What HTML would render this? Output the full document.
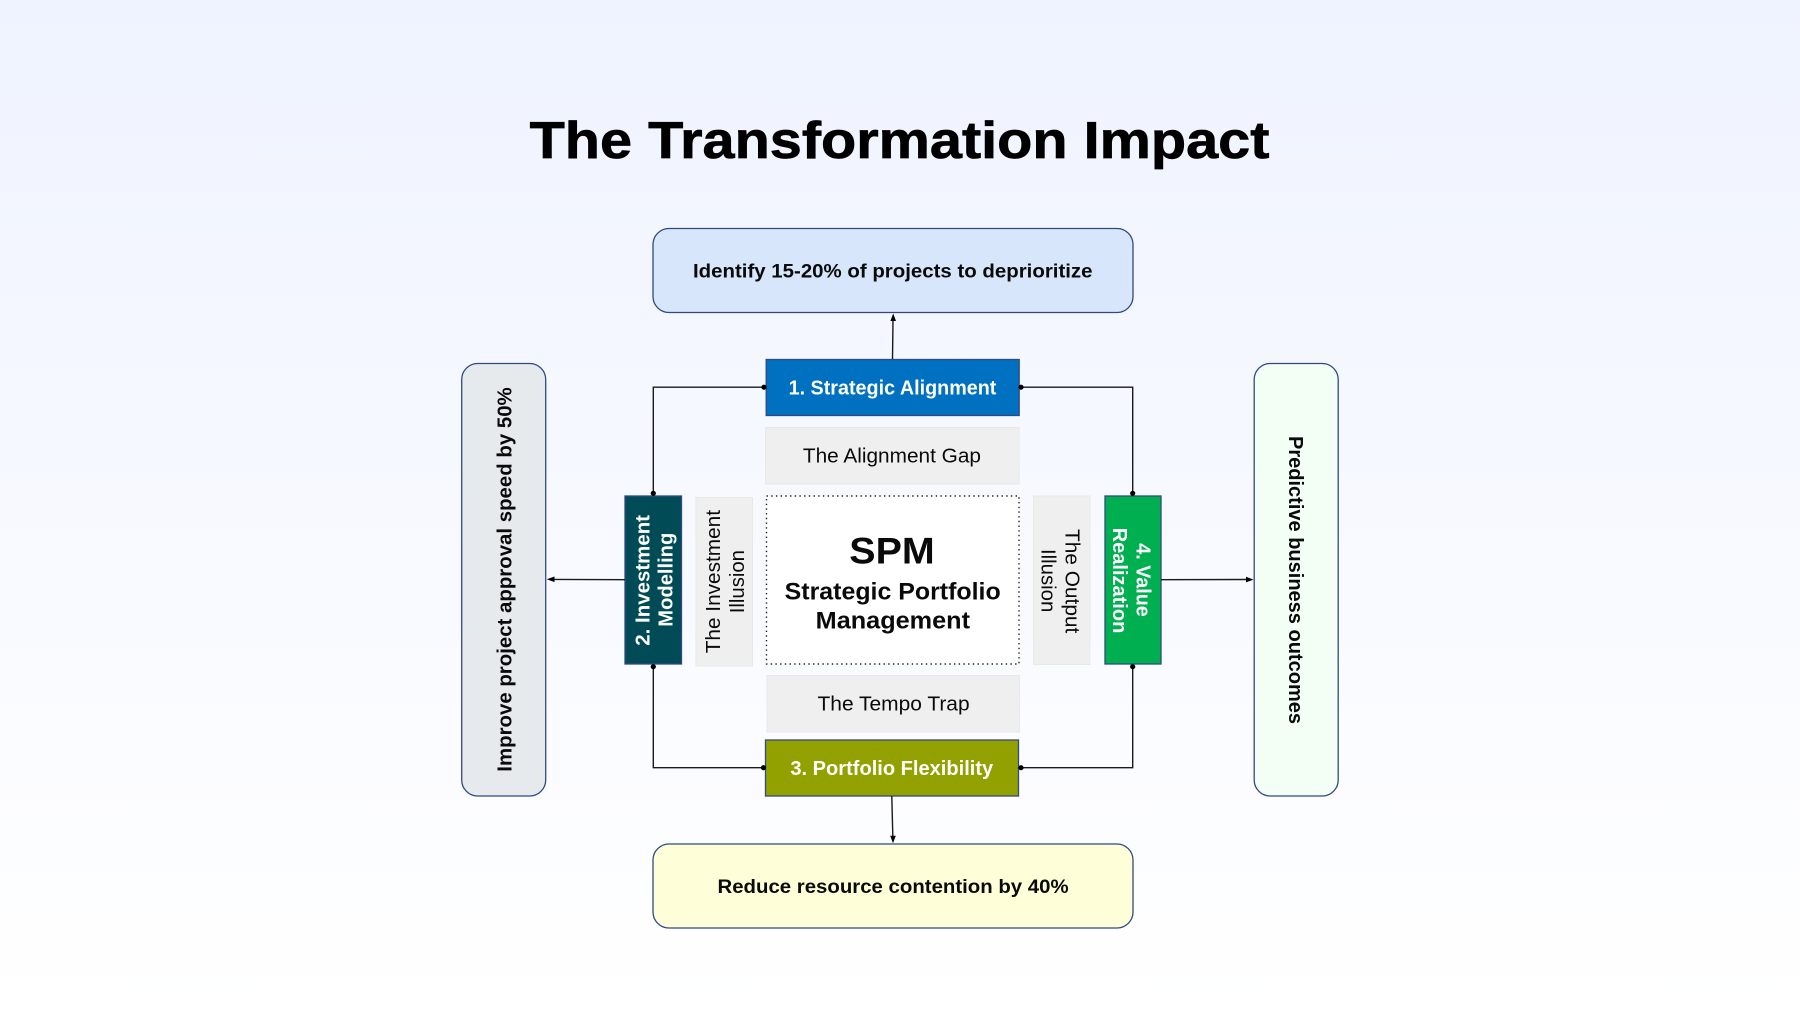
<!DOCTYPE html>
<html><head><meta charset="utf-8"><style>
html,body{margin:0;padding:0;width:1800px;height:1012px;overflow:hidden;background:#fff}
svg{display:block}
text{font-family:"Liberation Sans",sans-serif;fill:#0a0a0a}
.b{font-weight:700}
.w{fill:#fff;font-weight:700}
</style></head><body>
<svg width="1800" height="1012" viewBox="0 0 1800 1012" xmlns="http://www.w3.org/2000/svg">
<defs>
<linearGradient id="bg" x1="0" y1="0" x2="0" y2="1"><stop offset="0" stop-color="#eff3ff"/><stop offset="1" stop-color="#ffffff"/></linearGradient>
</defs>
<rect width="1800" height="1012" fill="url(#bg)"/>
<text class="b" x="529.6" y="158" font-size="52" textLength="739.8" lengthAdjust="spacingAndGlyphs" style="fill:#000;stroke:#000;stroke-width:.7">The Transformation Impact</text>

<g stroke="#2f4a80" stroke-width="1.3">
<rect x="653" y="228.5" width="480" height="84" rx="16" fill="#d7e6fb"/>
<rect x="461.7" y="363.5" width="84" height="432.5" rx="16" fill="#e6eaec"/>
<rect x="1254.2" y="363.5" width="84" height="432.5" rx="16" fill="#f3fff5"/>
<rect x="653" y="844" width="480" height="84" rx="16" fill="#feffd9"/>
<rect x="766.2" y="359.5" width="253" height="56" fill="#0070c0"/>
<rect x="625" y="496" width="56.5" height="168" fill="#004b55"/>
<rect x="765.5" y="740" width="253" height="56" fill="#92a000"/>
<rect x="1105" y="496" width="56" height="168" fill="#00b050"/>
</g>
<g fill="#efefef" stroke="#e8e8e8" stroke-width="1">
<rect x="765.5" y="427.5" width="253.5" height="56.5"/>
<rect x="767" y="675.5" width="252.5" height="56.5"/>
<rect x="696" y="497.5" width="56.5" height="168.5"/>
<rect x="1033.5" y="496" width="56.5" height="168.5"/>
</g>
<rect x="766.5" y="496" width="252.5" height="168" fill="#fff" stroke="#222" stroke-width="1.4" stroke-dasharray="1.4 3.3"/>

<g fill="none" stroke="#1a1a1a" stroke-width="1.4">
<path d="M765 387.2H653.3V493"/>
<path d="M1021 387.2H1132.7V493"/>
<path d="M763 767.7H653.3V667"/>
<path d="M1021 767.7H1132.7V667"/>
<path d="M892.5 359L893 320"/>
<path d="M625 579.7L554 579.4"/>
<path d="M1161 579.7L1246 579.5"/>
<path d="M891.8 796L892.8 836"/>
</g>
<g fill="#000">
<circle cx="764" cy="387.2" r="2.6"/><circle cx="1021" cy="387.2" r="2.6"/>
<circle cx="653.3" cy="493.3" r="2.6"/><circle cx="1132.7" cy="493.3" r="2.6"/>
<circle cx="653.3" cy="666.7" r="2.6"/><circle cx="1132.7" cy="666.7" r="2.6"/>
<circle cx="763.5" cy="767.7" r="2.6"/><circle cx="1021" cy="767.7" r="2.6"/>
<path d="M893.2 313.5L896 321H890.4Z"/>
<path d="M546.8 579.3L554.5 576.5V582.1Z"/>
<path d="M1253.5 579.6L1246 576.8V582.4Z"/>
<path d="M893 843.3L890.2 835.8H895.8Z"/>
</g>

<text class="b" x="693" y="277.5" font-size="19.6" textLength="399.5" lengthAdjust="spacingAndGlyphs">Identify 15-20% of projects to deprioritize</text>
<text class="w" x="788.6" y="394.3" font-size="20.6" textLength="207.8" lengthAdjust="spacingAndGlyphs">1. Strategic Alignment</text>
<text x="802.9" y="462.7" font-size="20.6" textLength="178.1" lengthAdjust="spacingAndGlyphs">The Alignment Gap</text>
<text class="b" x="849.3" y="563.3" font-size="37.5" textLength="85.4" lengthAdjust="spacingAndGlyphs" fill="#000">SPM</text>
<text class="b" x="784.7" y="599.3" font-size="23.6" textLength="216" lengthAdjust="spacingAndGlyphs" fill="#000">Strategic Portfolio</text>
<text class="b" x="815.7" y="628.3" font-size="23.6" textLength="154.3" lengthAdjust="spacingAndGlyphs" fill="#000">Management</text>
<text x="817.5" y="710.7" font-size="20.6" textLength="152.1" lengthAdjust="spacingAndGlyphs">The Tempo Trap</text>
<text class="w" x="790.4" y="775" font-size="20.6" textLength="202.8" lengthAdjust="spacingAndGlyphs">3. Portfolio Flexibility</text>
<text class="b" x="717.5" y="892.8" font-size="19.6" textLength="351.1" lengthAdjust="spacingAndGlyphs">Reduce resource contention by 40%</text>

<text class="b" transform="translate(511.7 771.7) rotate(-90)" font-size="20" textLength="384.4" lengthAdjust="spacingAndGlyphs">Improve project approval speed by 50%</text>
<text class="w" transform="translate(649.3 645.7) rotate(-90)" font-size="20.6" textLength="130.7" lengthAdjust="spacingAndGlyphs">2. Investment</text>
<text class="w" transform="translate(672.7 626.7) rotate(-90)" font-size="20.6" textLength="94" lengthAdjust="spacingAndGlyphs">Modelling</text>
<text transform="translate(720 653.3) rotate(-90)" font-size="20.6" textLength="143.3" lengthAdjust="spacingAndGlyphs">The Investment</text>
<text transform="translate(744 613.3) rotate(-90)" font-size="20.6" textLength="63.3" lengthAdjust="spacingAndGlyphs">Illusion</text>

<text class="b" transform="translate(1288.8 436) rotate(90)" font-size="20" textLength="288" lengthAdjust="spacingAndGlyphs">Predictive business outcomes</text>
<text class="w" transform="translate(1136.7 543.3) rotate(90)" font-size="20.6" textLength="73.4" lengthAdjust="spacingAndGlyphs">4. Value</text>
<text class="w" transform="translate(1113.2 527.7) rotate(90)" font-size="20.6" textLength="105.6" lengthAdjust="spacingAndGlyphs">Realization</text>
<text transform="translate(1065.7 529) rotate(90)" font-size="20.6" textLength="104.3" lengthAdjust="spacingAndGlyphs">The Output</text>
<text transform="translate(1041.7 549) rotate(90)" font-size="20.6" textLength="63.3" lengthAdjust="spacingAndGlyphs">Illusion</text>
</svg>
</body></html>
